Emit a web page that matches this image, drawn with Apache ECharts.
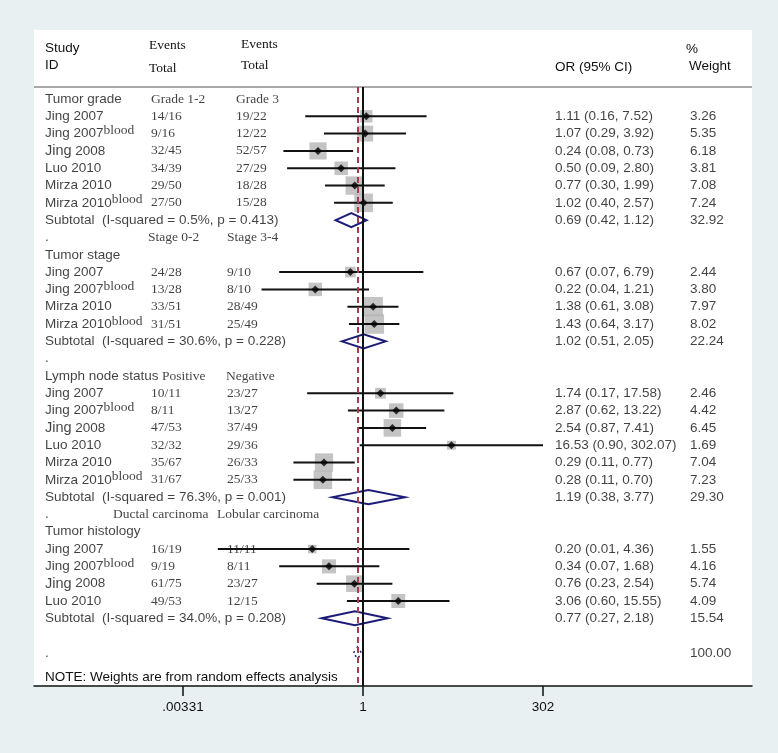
<!DOCTYPE html>
<html>
<head>
<meta charset="utf-8">
<script src="https://cdn.jsdelivr.net/npm/echarts@6/dist/echarts.min.js"></script>
<style>html,body{margin:0;padding:0;background:#e8f0f2;}#chart{width:778px;height:753px;}</style>
</head>
<body>
<div id="chart"></div>
<script>
// ---------------- DATA ----------------
const rowLabels = [
  'Tumor grade','Jing 2007','Jing 2007^blood','Jing  2008','Luo 2010','Mirza 2010','Mirza 2010^blood','Subtotal  (I-squared = 0.5%, p = 0.413)',
  '.','Tumor stage','Jing 2007','Jing 2007^blood','Mirza 2010','Mirza 2010^blood','Subtotal  (I-squared = 30.6%, p = 0.228)',
  '.','Lymph node status','Jing 2007','Jing 2007^blood','Jing  2008','Luo 2010','Mirza 2010','Mirza 2010^blood','Subtotal  (I-squared = 76.3%, p = 0.001)',
  '.','Tumor histology','Jing 2007','Jing 2007^blood','Jing  2008','Luo 2010','Subtotal  (I-squared = 34.0%, p = 0.208)',
  '','.'
];
const eventsA = [
  'Grade 1-2','14/16','9/16','32/45','34/39','29/50','27/50','',
  'Stage 0-2','','24/28','13/28','33/51','31/51','',
  '','Positive','10/11','8/11','47/53','32/32','35/67','31/67','',
  'Ductal carcinoma','','16/19','9/19','61/75','49/53','',
  '',''
];
const eventsB = [
  'Grade 3','19/22','12/22','52/57','27/29','18/28','15/28','',
  'Stage 3-4','','9/10','8/10','28/49','25/49','',
  '','Negative','23/27','13/27','37/49','29/36','26/33','25/33','',
  'Lobular carcinoma','','11/11','8/11','23/27','12/15','',
  '',''
];
const orEst = [null,1.11,1.07,0.24,0.50,0.77,1.02,0.69, null,null,0.67,0.22,1.38,1.43,1.02, null,null,1.74,2.87,2.54,16.53,0.29,0.28,1.19, null,null,0.20,0.34,0.76,3.06,0.77, null,null];
const ciLow = [null,0.16,0.29,0.08,0.09,0.30,0.40,0.42, null,null,0.07,0.04,0.61,0.64,0.51, null,null,0.17,0.62,0.87,0.90,0.11,0.11,0.38, null,null,0.01,0.07,0.23,0.60,0.27, null,null];
const ciHigh = [null,7.52,3.92,0.73,2.80,1.99,2.57,1.12, null,null,6.79,1.21,3.08,3.17,2.05, null,null,17.58,13.22,7.41,302.07,0.77,0.70,3.77, null,null,4.36,1.68,2.54,15.55,2.18, null,null];
const weights = [null,3.26,5.35,6.18,3.81,7.08,7.24,32.92, null,null,2.44,3.80,7.97,8.02,22.24, null,null,2.46,4.42,6.45,1.69,7.04,7.23,29.30, null,null,1.55,4.16,5.74,4.09,15.54, null,100.00];
const overallOR = 0.84;
const overallRow = 32;
const tickLabels = ['.00331','1','302'];
const axisMin = 1/302, axisMax = 302;

// ---------------- LAYOUT ----------------
const SANS = 'Liberation Sans, Arial, sans-serif';
const SERIF = 'Liberation Serif, Times New Roman, serif';
const FS = 13.5;
const TXT = '#111';
const rowH = 17.31, row0Y = 99, plotTop = 87, plotBottom = 686;
const panelL = 34, panelR = 752, panelT = 30;
const yMin = (plotTop - row0Y) / rowH, yMax = (plotBottom - row0Y) / rowH;
const colStudy = 45, colA = 151, colOR = 555, colW = 690;
const subHeadX = {0:[151,236], 8:[148,227], 16:[162,226], 24:[113,217]};
function colBFor(r){ return r <= 7 ? 236 : 227; }

const isSub = r => rowLabels[r].indexOf('Subtotal') === 0;

// ---------------- BUILD SERIES DATA ----------------
const studyText = [], evAText = [], evBText = [], orText = [], wText = [];
const squares = [], points = [], cis = [], subs = [];
rowLabels.forEach((lab, r) => {
  if (lab) studyText.push([colStudy, r, lab]);
  const sh = subHeadX[r];
  if (eventsA[r]) evAText.push([sh ? sh[0] : colA, r, eventsA[r]]);
  if (eventsB[r]) evBText.push([sh ? sh[1] : colBFor(r), r, eventsB[r]]);
  if (orEst[r] != null) {
    orText.push([colOR, r, orEst[r].toFixed(2) + ' (' + ciLow[r].toFixed(2) + ', ' + ciHigh[r].toFixed(2) + ')']);
    if (isSub(r)) {
      subs.push([ciLow[r], ciHigh[r], orEst[r], r]);
    } else {
      squares.push([orEst[r], r, weights[r]]);
      points.push([orEst[r], r]);
      cis.push([ciLow[r], ciHigh[r], orEst[r], r]);
    }
  }
  if (weights[r] != null) wText.push([colW, r, weights[r].toFixed(2)]);
});

function studyFmt(p) {
  const t = p.data[2];
  if (t.indexOf('^') >= 0) {
    const parts = t.split('^');
    return '{n|' + parts[0] + '}{s|' + parts[1] + '}';
  }
  if (t.indexOf('  ') > 0 && t.indexOf('Subtotal') !== 0) {
    const i = t.indexOf('  ');
    return '{b|' + t.slice(0, i) + '}{n| ' + t.slice(i + 2) + '}';
  }
  return '{n|' + t + '}';
}

function textSeries(data, fmt, family) {
  return {
    type: 'scatter', xAxisIndex: 1, yAxisIndex: 1, symbolSize: 0, silent: true, z: 5,
    data: data,
    label: {
      show: true, position: 'right', distance: 0,
      formatter: fmt || (p => p.data[2]),
      fontFamily: family, fontSize: FS, color: TXT,
      rich: {
        n: {fontFamily: SANS, fontSize: FS, color: TXT, lineHeight: 20},
        s: {fontFamily: SERIF, fontSize: FS, color: TXT, lineHeight: 12, verticalAlign: 'top'},
        b: {fontFamily: SANS, fontSize: 14.5, color: TXT, lineHeight: 20}
      }
    }
  };
}

const chart = echarts.init(document.getElementById('chart'), null, {renderer: 'canvas'});

const option = {
  backgroundColor: '#e8f0f2',
  animation: false,
  grid: [
    {left: 183, width: 360, top: plotTop, height: plotBottom - plotTop},
    {left: panelL, width: panelR - panelL, top: plotTop, height: plotBottom - plotTop}
  ],
  xAxis: [
    {
      gridIndex: 0, type: 'log', logBase: 302, min: axisMin, max: axisMax, position: 'bottom',
      axisLine: {show: false, onZero: false},
      axisTick: {show: true, length: 10, lineStyle: {color: '#111', width: 1.5}},
      axisLabel: {show: true, margin: 14, fontFamily: SANS, fontSize: FS, color: TXT,
        formatter: (v, i) => tickLabels[i] !== undefined ? tickLabels[i] : ''},
      splitLine: {show: false}
    },
    {
      gridIndex: 1, type: 'value', min: panelL, max: panelR, position: 'bottom',
      axisLine: {show: true, onZero: false, lineStyle: {color: '#111', width: 1.5}},
      axisTick: {show: false}, axisLabel: {show: false}, splitLine: {show: false}
    }
  ],
  yAxis: [
    {gridIndex: 0, type: 'value', inverse: true, min: yMin, max: yMax, show: false},
    {gridIndex: 1, type: 'value', inverse: true, min: yMin, max: yMax, show: false}
  ],
  graphic: [
    {type: 'rect', z: -10, shape: {x: panelL, y: panelT, width: panelR - panelL, height: plotBottom - panelT}, style: {fill: '#ffffff'}},
    {type: 'line', z: 1, shape: {x1: panelL, y1: plotTop, x2: panelR, y2: plotTop}, style: {stroke: '#a8a8a8', lineWidth: 2}},
    {type: 'text', x: 45, y: 48, style: {text: 'Study', fontFamily: SANS, fontSize: FS, fill: TXT, verticalAlign: 'middle'}},
    {type: 'text', x: 45, y: 65, style: {text: 'ID', fontFamily: SANS, fontSize: FS, fill: TXT, verticalAlign: 'middle'}},
    {type: 'text', x: 149, y: 45, style: {text: 'Events', fontFamily: SERIF, fontSize: FS, fill: TXT, verticalAlign: 'middle'}},
    {type: 'text', x: 149, y: 68, style: {text: 'Total', fontFamily: SERIF, fontSize: FS, fill: TXT, verticalAlign: 'middle'}},
    {type: 'text', x: 241, y: 44, style: {text: 'Events', fontFamily: SERIF, fontSize: FS, fill: TXT, verticalAlign: 'middle'}},
    {type: 'text', x: 241, y: 65, style: {text: 'Total', fontFamily: SERIF, fontSize: FS, fill: TXT, verticalAlign: 'middle'}},
    {type: 'text', x: 555, y: 67, style: {text: 'OR (95% CI)', fontFamily: SANS, fontSize: FS, fill: TXT, verticalAlign: 'middle'}},
    {type: 'text', x: 686, y: 49, style: {text: '%', fontFamily: SANS, fontSize: FS, fill: TXT, verticalAlign: 'middle'}},
    {type: 'text', x: 689, y: 66, style: {text: 'Weight', fontFamily: SANS, fontSize: FS, fill: TXT, verticalAlign: 'middle'}},
    {type: 'text', x: 45, y: 677, style: {text: 'NOTE: Weights are from random effects analysis', fontFamily: SANS, fontSize: FS, fill: TXT, verticalAlign: 'middle'}}
  ],
  series: [
    {
      type: 'line', xAxisIndex: 0, yAxisIndex: 0, data: [], z: 1, silent: true,
      markLine: {
        symbol: 'none', silent: true, label: {show: false}, animation: false,
        data: [
          {xAxis: 1, lineStyle: {color: '#111', type: 'solid', width: 2}},
          {xAxis: overallOR, lineStyle: {color: '#a0404c', type: [6, 4], width: 2}}
        ]
      }
    },
    {
      type: 'scatter', xAxisIndex: 0, yAxisIndex: 0, z: 2, silent: true,
      symbol: 'rect', data: squares,
      symbolSize: v => 6.9 * Math.sqrt(v[2]),
      itemStyle: {color: '#b5b5b5'}
    },
    {
      type: 'custom', xAxisIndex: 0, yAxisIndex: 0, z: 3, silent: true,
      data: cis, encode: {x: [0, 1, 2], y: 3},
      renderItem: (params, api) => {
        const a = api.coord([api.value(0), api.value(3)]);
        const b = api.coord([api.value(1), api.value(3)]);
        return {type: 'line', shape: {x1: a[0], y1: a[1], x2: b[0], y2: b[1]}, style: {stroke: '#111', lineWidth: 2}};
      }
    },
    {
      type: 'scatter', xAxisIndex: 0, yAxisIndex: 0, z: 4, silent: true,
      symbol: 'diamond', symbolSize: 8, data: points,
      itemStyle: {color: '#000'}
    },
    {
      type: 'custom', xAxisIndex: 0, yAxisIndex: 0, z: 4, silent: true,
      data: subs, encode: {x: [0, 1, 2], y: 3},
      renderItem: (params, api) => {
        const r = api.value(3);
        const l = api.coord([api.value(0), r]);
        const h = api.coord([api.value(1), r]);
        const m = api.coord([api.value(2), r]);
        return {type: 'polygon', shape: {points: [[l[0], l[1]], [m[0], m[1] - 7], [h[0], h[1]], [m[0], m[1] + 7]]},
          style: {fill: '#fff', stroke: '#1c1c78', lineWidth: 2}};
      }
    },
    {
      type: 'custom', xAxisIndex: 0, yAxisIndex: 0, z: 4, silent: true,
      data: [[overallOR, overallRow]], encode: {x: 0, y: 1},
      renderItem: (params, api) => {
        const c = api.coord([api.value(0), api.value(1)]);
        return {type: 'polygon', shape: {points: [[c[0] - 4, c[1]], [c[0], c[1] - 6], [c[0] + 4, c[1]], [c[0], c[1] + 6]]},
          style: {fill: 'rgba(0,0,0,0)', stroke: '#1c1c78', lineWidth: 1.5, lineDash: [2, 4]}};
      }
    },
    textSeries(studyText, studyFmt, SANS),
    textSeries(evAText, null, SERIF),
    textSeries(evBText, null, SERIF),
    textSeries(orText, null, SANS),
    textSeries(wText, null, SANS)
  ]
};
chart.setOption(option);
</script>
</body>
</html>
